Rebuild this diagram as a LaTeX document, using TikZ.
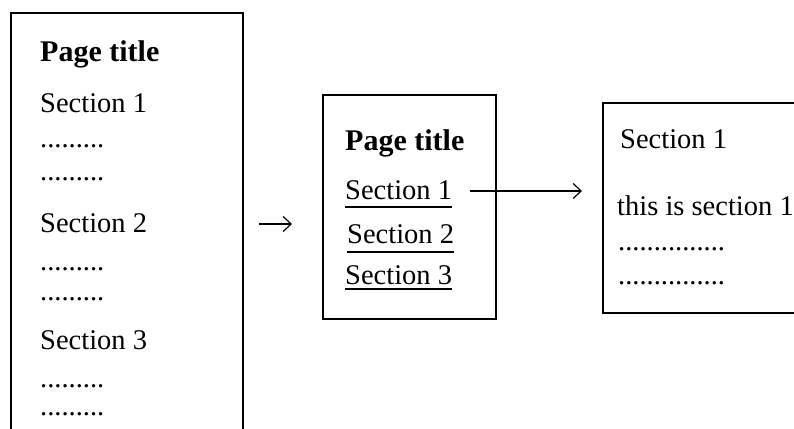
\documentclass[tikz,border=0pt]{standalone}
\usepackage{fontspec}
\setmainfont{Liberation Serif}
\usetikzlibrary{arrows.meta}

\begin{document}
\begin{tikzpicture}[
    x=1pt, y=-1pt,
    page/.style={draw, line width=1.6pt, inner sep=0pt},
    txt/.style={anchor=base west, inner sep=0pt, font=\fontsize{28.5}{33}\selectfont},
    title/.style={txt, font=\fontsize{30}{35}\selectfont\bfseries},
    link/.style={line width=1.4pt},
    arrow/.style={-{Straight Barb[length=8pt, width=15pt]}, line width=1.2pt},
]
    \clip (0,0) rectangle (794,428);

    % Full page
    \node[page, minimum width=232pt, minimum height=440pt] (full) at (127,233) {};
    \node[title] (ftitle) at (40,62) {Page title};
    \node[txt] (fsec1) at (40,112) {Section 1};
    \node[txt] (fdots1a) at (40,147) {.........};
    \node[txt] (fdots1b) at (40,180) {.........};
    \node[txt] (fsec2) at (40,232) {Section 2};
    \node[txt] (fdots2a) at (40,270) {.........};
    \node[txt] (fdots2b) at (40,300) {.........};
    \node[txt] (fsec3) at (40,349) {Section 3};
    \node[txt] (fdots3a) at (40,387) {.........};
    \node[txt] (fdots3b) at (40,415) {.........};

    % Split into
    \coordinate (splitA) at (259,224);
    \coordinate (splitB) at (292,224);
    \draw[arrow] (splitA) -- (splitB);

    % Index page
    \node[page, minimum width=173pt, minimum height=224pt] (index) at (409.5,207) {};
    \node[title] (ititle) at (345,150) {Page title};
    \node[txt] (isec1) at (345,199) {Section 1};
    \node[txt] (isec2) at (347,243) {Section 2};
    \node[txt] (isec3) at (345,284) {Section 3};
    \draw[link] ([yshift=-8pt]isec1.base west) -- ([yshift=-8pt]isec1.base east);
    \draw[link] ([yshift=-9pt]isec2.base west) -- ([yshift=-9pt]isec2.base east);
    \draw[link] ([yshift=-5pt]isec3.base west) -- ([yshift=-5pt]isec3.base east);

    % Section page
    \node[page, minimum width=210pt, minimum height=210pt] (section) at (708,208) {};
    \node[txt] (ssec1) at (620,148) {Section 1};
    \node[txt] (sbody) at (617,215) {this is section 1};
    \node[txt] (sdotsa) at (618,250) {...............};
    \node[txt] (sdotsb) at (618,284) {...............};

    % Follow link
    \coordinate (source) at (470,191);
    \coordinate (target) at (582,191);
    \draw[arrow] (source) -- (target);
\end{tikzpicture}
\end{document}
